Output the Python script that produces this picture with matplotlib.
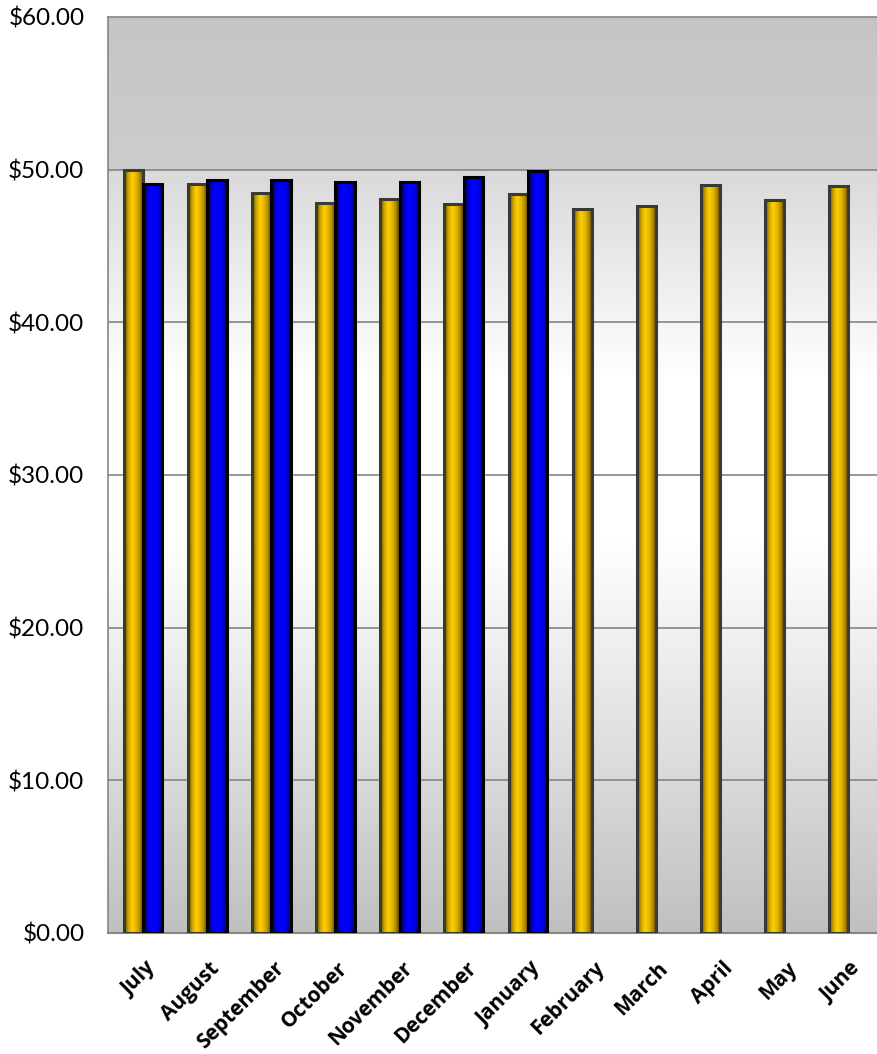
import numpy as np
import matplotlib
matplotlib.use("Agg")
import matplotlib.pyplot as plt
from matplotlib.colors import LinearSegmentedColormap
from matplotlib.ticker import FuncFormatter, MultipleLocator

months = ["July", "August", "September", "October", "November", "December",
          "January", "February", "March", "April", "May", "June"]
series_gold = [50.0, 49.05, 48.45, 47.8, 48.05, 47.75, 48.4, 47.4, 47.6, 49.0, 48.0, 48.9]
series_blue = [49.05, 49.3, 49.3, 49.2, 49.2, 49.55, 49.9]

plt.rcParams['font.family'] = ['Lato', 'DejaVu Sans']

fig = plt.figure(figsize=(8.77, 10.54), dpi=100)
ax = fig.add_axes([108/877, (1054-933)/1054, 1 - 108/877, (933-17)/1054])

ymax = 60
ax.set_ylim(0, ymax)
ax.set_xlim(-0.5, len(months) - 0.5)

# background gradient
bg_vals = np.interp(np.linspace(0, 60, 300), [0, 12, 26, 36, 50, 50.01, 60],
                    [0.75, 0.87, 1.0, 1.0, 0.85, 0.80, 0.77])
bg = np.repeat(bg_vals[:, None], 2, axis=1)
ax.imshow(bg, cmap='gray', vmin=0, vmax=1, aspect='auto', origin='lower',
          extent=[-0.5, len(months) - 0.5, 0, 60], zorder=0)

for v in range(10, 60, 10):
    ax.axhline(v, color='#868686', lw=1.2, zorder=1)

gold_cmap = LinearSegmentedColormap.from_list('g', ['#5a4800', '#c9a100', '#ffd000', '#e8b800', '#b08c00', '#4a3a00'])
blue_cmap = LinearSegmentedColormap.from_list('b', ['#000020', '#0000c0', '#0000ff', '#0000ff', '#0000d8', '#000060'])

w = 0.30
off = 0.05
x = np.arange(len(months))

def grad_bars(xs, vals, cmap, edge):
    bars = ax.bar(xs, vals, width=w, facecolor='none', edgecolor=edge, lw=2.2, zorder=4)
    grad = np.linspace(0, 1, 64)[None, :]
    for b in bars:
        x0, y0 = b.get_x(), b.get_y()
        im = ax.imshow(grad, cmap=cmap, aspect='auto',
                       extent=[x0, x0 + b.get_width(), y0, y0 + b.get_height()], zorder=3)
        im.set_clip_path(b)
    return bars

grad_bars(x - w/2 + off, series_gold, gold_cmap, '#3a3a32')
grad_bars(x[:len(series_blue)] + w/2 + off, series_blue, blue_cmap, '#000000')

ax.set_xlim(-0.5, len(months) - 0.5)
ax.set_ylim(0, ymax)

ax.yaxis.set_major_locator(MultipleLocator(10))
ax.yaxis.set_major_formatter(FuncFormatter(lambda v, p: f"${v:.2f}"))
ax.tick_params(axis='y', length=0, labelsize=17.5, pad=17)
ax.set_xticks(x + 0.08)
ax.set_xticklabels(months, rotation=45, ha='right', va='top', rotation_mode='anchor',
                   fontsize=15, fontweight='bold', family=['Open Sans', 'DejaVu Sans'])
ax.tick_params(axis='x', length=0, pad=18)

for s in ['left', 'top']:
    ax.spines[s].set_color('#868686')
    ax.spines[s].set_linewidth(1.2)
ax.spines['bottom'].set_color('#868686')
ax.spines['bottom'].set_linewidth(1.5)
ax.spines['right'].set_visible(False)

fig.savefig('out.png', dpi=100)
